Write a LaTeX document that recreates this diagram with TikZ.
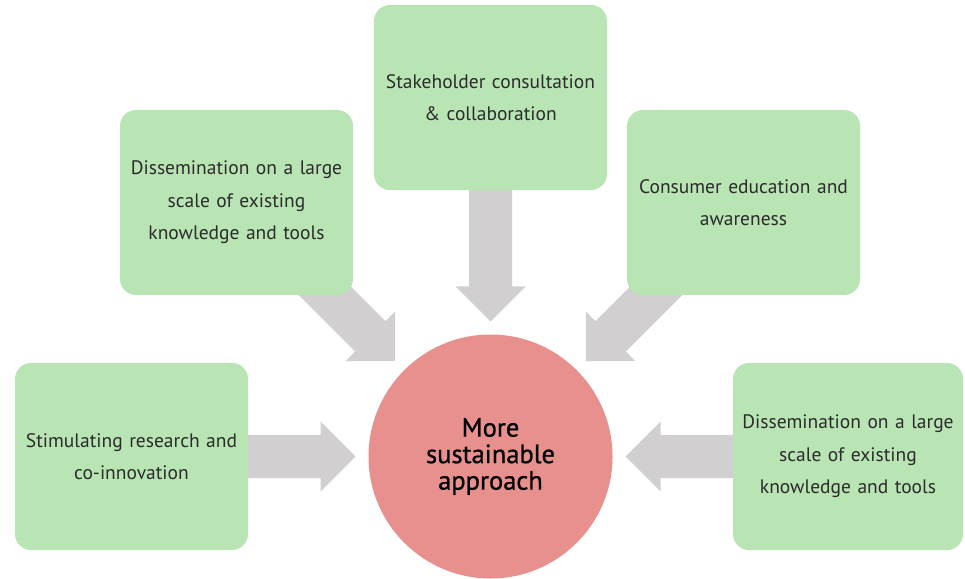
\documentclass[tikz,border=0pt]{standalone}
\usepackage{fontspec}
\setmainfont{PT Sans}
\newfontfamily\hubfont[UprightFeatures={FakeBold=0.8}]{PT Sans}
\usetikzlibrary{backgrounds}
\definecolor{boxgreen}{HTML}{B9E4B4}
\definecolor{circred}{HTML}{E8908D}
\definecolor{arrowgray}{HTML}{D1CFD0}
\definecolor{txtgray}{HTML}{2B2B2B}
\tikzset{
  greenbox/.style={rectangle, rounded corners=16pt, fill=boxgreen, draw=none,
    minimum width=233pt, minimum height=185pt, inner sep=0pt,
    text width=228pt, align=center, text=txtgray,
    font=\fontsize{19.5}{32.5}\selectfont},
  hubcircle/.style={circle, fill=circred, draw=none, minimum size=244pt, inner sep=0pt,
    align=center, text=black, font=\hubfont\fontsize{26.5}{26.5}\selectfont},
  arrowfill/.style={fill=arrowgray, draw=none}
}
\newcommand\blockarrow[2]{%
  \fill[arrowfill, shift={(hub.center)}, rotate=#1]
    (135,0) -- (170,35) -- (170,21.5) -- (#2,21.5) -- (#2,-21.5) -- (170,-21.5) -- (170,-35) -- cycle;}
\begin{document}
\begin{tikzpicture}[x=1pt,y=1pt]
\useasboundingbox (0,0) rectangle (965,578);
\node[hubcircle] (hub) at (490.5,121.5) {More\\sustainable\\approach};
\node[greenbox] (top) at (490.5,480.5) {Stakeholder consultation\\\& collaboration};
\node[greenbox] (ul) at (236.5,375.5) {Dissemination on a large\\scale of existing\\knowledge and tools};
\node[greenbox] (ur) at (743.5,375.5) {Consumer education and\\awareness};
\node[greenbox, minimum height=187pt] (ll) at (131.5,121.5) {Stimulating research and\\co-innovation};
\node[greenbox, minimum height=187pt, minimum width=230pt] (lr) at (848,121.5) {Dissemination on a large\\scale of existing\\knowledge and tools};
\begin{scope}[on background layer]
  \blockarrow{180}{250}
  \blockarrow{135}{260}
  \blockarrow{90}{275}
  \blockarrow{45}{260}
  \blockarrow{0}{250}
\end{scope}
\end{tikzpicture}
\end{document}
